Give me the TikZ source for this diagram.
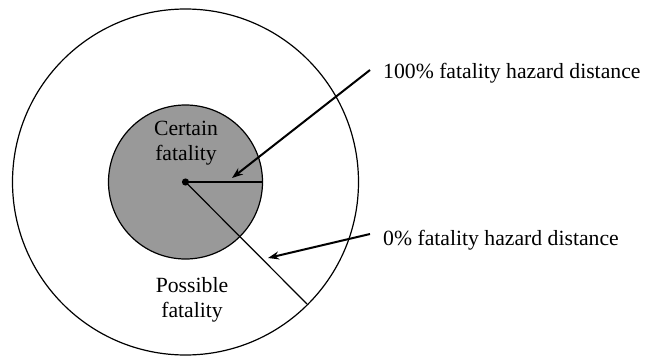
\documentclass[tikz,border=0pt]{standalone}
\usepackage{fontspec}
\setmainfont{Liberation Serif}
\usetikzlibrary{arrows.meta}
\begin{document}
\begin{tikzpicture}[x=1pt,y=-1pt,
  ring/.style={draw=black,line width=1.2pt},
  radius line/.style={draw=black,line width=1.2pt},
  pointer/.style={draw=black,line width=2pt,-{Stealth[length=11pt,width=8pt]}},
  lbl/.style={font=\fontsize{21.7}{25}\selectfont,align=center,inner sep=0pt},
  side/.style={font=\fontsize{21.7}{25}\selectfont,anchor=base west,inner sep=0pt}]
\useasboundingbox (0,0) rectangle (656,356);
\coordinate (c) at (185.5,182);
\draw[ring] (c) circle[radius=173];
\draw[ring,fill=black!40] (c) circle[radius=77];
\coordinate (r1) at (262.5,182);
\coordinate (r0) at (307,304);
\draw[radius line] (c) -- (r1);
\draw[radius line] (c) -- (r0);
\fill (c) circle[radius=3.6];
\node[lbl] (cert) at (186,143) {Certain\\fatality};
\node[lbl] (poss) at (192,300) {Possible\\fatality};
\node[side] (t100) at (383,78) {100\% fatality hazard distance};
\node[side] (t0) at (383,245) {0\% fatality hazard distance};
\coordinate (a1s) at (370,70);
\coordinate (a1e) at (232,178);
\coordinate (a0s) at (370,234);
\coordinate (a0e) at (268,258);
\draw[pointer] (a1s) -- (a1e);
\draw[pointer] (a0s) -- (a0e);
\end{tikzpicture}
\end{document}
